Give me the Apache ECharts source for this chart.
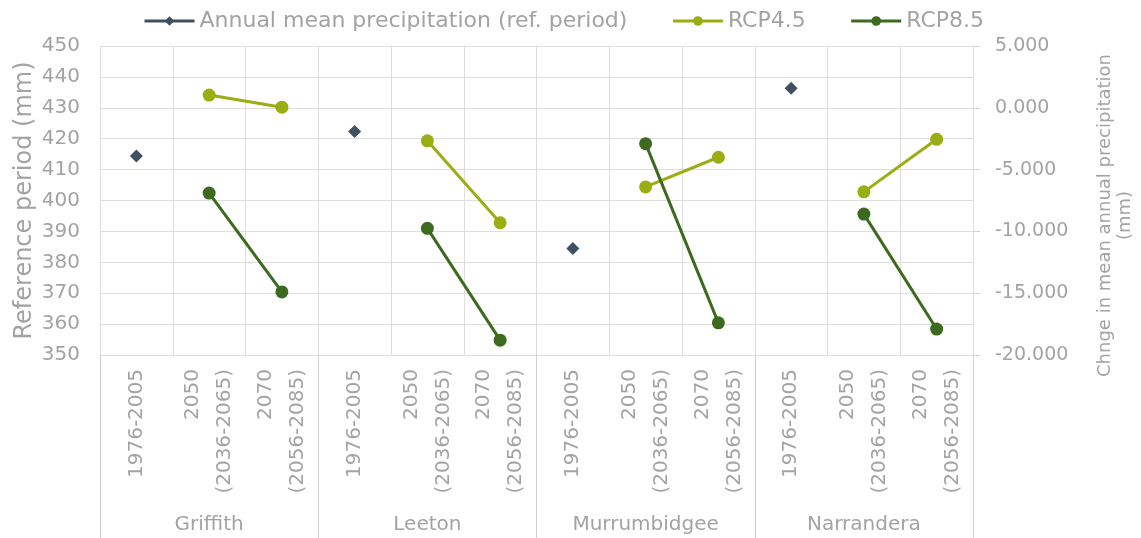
<!DOCTYPE html>
<html>
<head>
<meta charset="utf-8">
<script src="https://cdn.jsdelivr.net/npm/echarts@6/dist/echarts.min.js"></script>
<style>
html,body{margin:0;padding:0;background:#fff;}
#chart{width:1141px;height:538px;}
</style>
</head>
<body>
<div id="chart"></div>
<script>
const categories = ['1976-2005', '2050\n(2036-2065)', '2070\n(2056-2085)',
                    '1976-2005', '2050\n(2036-2065)', '2070\n(2056-2085)',
                    '1976-2005', '2050\n(2036-2065)', '2070\n(2056-2085)',
                    '1976-2005', '2050\n(2036-2065)', '2070\n(2056-2085)'];
const groups = ['Griffith', 'Leeton', 'Murrumbidgee', 'Narrandera'];
const annualMean = [414.4, null, null, 422.3, null, null, 384.5, null, null, 436.3, null, null];
const rcp45 = [null, 1.03, 0.05, null, -2.67, -9.3, null, -6.4, -4.0, null, -6.8, -2.55];
const rcp85 = [null, -6.9, -14.9, null, -9.75, -18.8, null, -2.9, -17.4, null, -8.6, -17.9];
const seriesNames = ['Annual mean precipitation (ref. period)', 'RCP4.5', 'RCP8.5'];

const FONT = 'DejaVu Sans';
const TXT = '#a3a3a3';
const GRID = '#dedede';

const chart = echarts.init(document.getElementById('chart'), null, {renderer: 'canvas'});
chart.setOption({
  backgroundColor: '#ffffff',
  animation: false,
  textStyle: {fontFamily: FONT},
  legend: {
    top: 5,
    left: 138,
    itemWidth: 50,
    itemHeight: 12,
    itemGap: 44,
    lineStyle: {width: 3},
    textStyle: {fontFamily: FONT, fontSize: 22, color: TXT},
    data: seriesNames
  },
  grid: {left: 100, right: 168, top: 46, bottom: 183, containLabel: false, outerBoundsMode: 'none'},
  xAxis: [
    {
      type: 'category',
      data: categories,
      position: 'bottom',
      boundaryGap: true,
      axisLine: {show: true, lineStyle: {color: GRID, width: 1}},
      axisTick: {show: false},
      splitLine: {show: true, interval: 0, lineStyle: {color: GRID, width: 1}},
      axisLabel: {
        interval: 0, rotate: 90, margin: 14,
        fontFamily: FONT, fontSize: 20, color: TXT, lineHeight: 32
      }
    },
    {
      type: 'category',
      data: groups,
      position: 'bottom',
      offset: 183,
      boundaryGap: true,
      axisLine: {show: false},
      axisTick: {show: true, inside: true, length: 183, interval: 0, lineStyle: {color: '#d0d0d0', width: 1}},
      splitLine: {show: false},
      axisLabel: {inside: true, margin: 3, interval: 0, fontFamily: FONT, fontSize: 20, color: TXT}
    }
  ],
  yAxis: [
    {
      type: 'value',
      min: 350, max: 450, interval: 10,
      position: 'left',
      name: 'Reference period (mm)',
      nameLocation: 'middle',
      nameGap: 63,
      nameMoveOverlap: false,
      nameRotate: 90,
      nameTextStyle: {fontFamily: FONT, fontSize: 24, color: TXT},
      axisLine: {show: false},
      axisTick: {show: false},
      splitLine: {show: true, lineStyle: {color: GRID, width: 1}},
      axisLabel: {margin: 20, fontFamily: FONT, fontSize: 20, color: TXT}
    },
    {
      type: 'value',
      min: -20, max: 5, interval: 5,
      position: 'right',
      name: 'Chnge in mean annual precipitation\n(mm)',
      nameLocation: 'middle',
      nameGap: 122,
      nameMoveOverlap: false,
      nameRotate: 90,
      nameTextStyle: {fontFamily: FONT, fontSize: 18, color: TXT, lineHeight: 20, align: 'center', padding: [0, 30, 0, 0]},
      axisLine: {show: false},
      axisTick: {show: true, length: 7, lineStyle: {color: '#d0d0d0'}},
      splitLine: {show: false},
      axisLabel: {
        margin: 22, fontFamily: FONT, fontSize: 19, color: TXT,
        formatter: v => v.toFixed(3)
      }
    }
  ],
  series: [
    {
      name: seriesNames[0],
      type: 'line',
      xAxisIndex: 0, yAxisIndex: 0,
      data: annualMean,
      symbol: 'diamond',
      symbolSize: 13,
      showSymbol: true,
      showAllSymbol: true,
      connectNulls: false,
      itemStyle: {color: '#3f5060'},
      lineStyle: {color: '#3f5060', width: 3}
    },
    {
      name: seriesNames[1],
      type: 'line',
      xAxisIndex: 0, yAxisIndex: 1,
      data: rcp45,
      symbol: 'circle',
      symbolSize: 13,
      showAllSymbol: true,
      connectNulls: false,
      itemStyle: {color: '#9aad12'},
      lineStyle: {color: '#9aad12', width: 3}
    },
    {
      name: seriesNames[2],
      type: 'line',
      xAxisIndex: 0, yAxisIndex: 1,
      data: rcp85,
      symbol: 'circle',
      symbolSize: 13,
      showAllSymbol: true,
      connectNulls: false,
      itemStyle: {color: '#3c6a1f'},
      lineStyle: {color: '#3c6a1f', width: 3}
    }
  ]
});
</script>
</body>
</html>
